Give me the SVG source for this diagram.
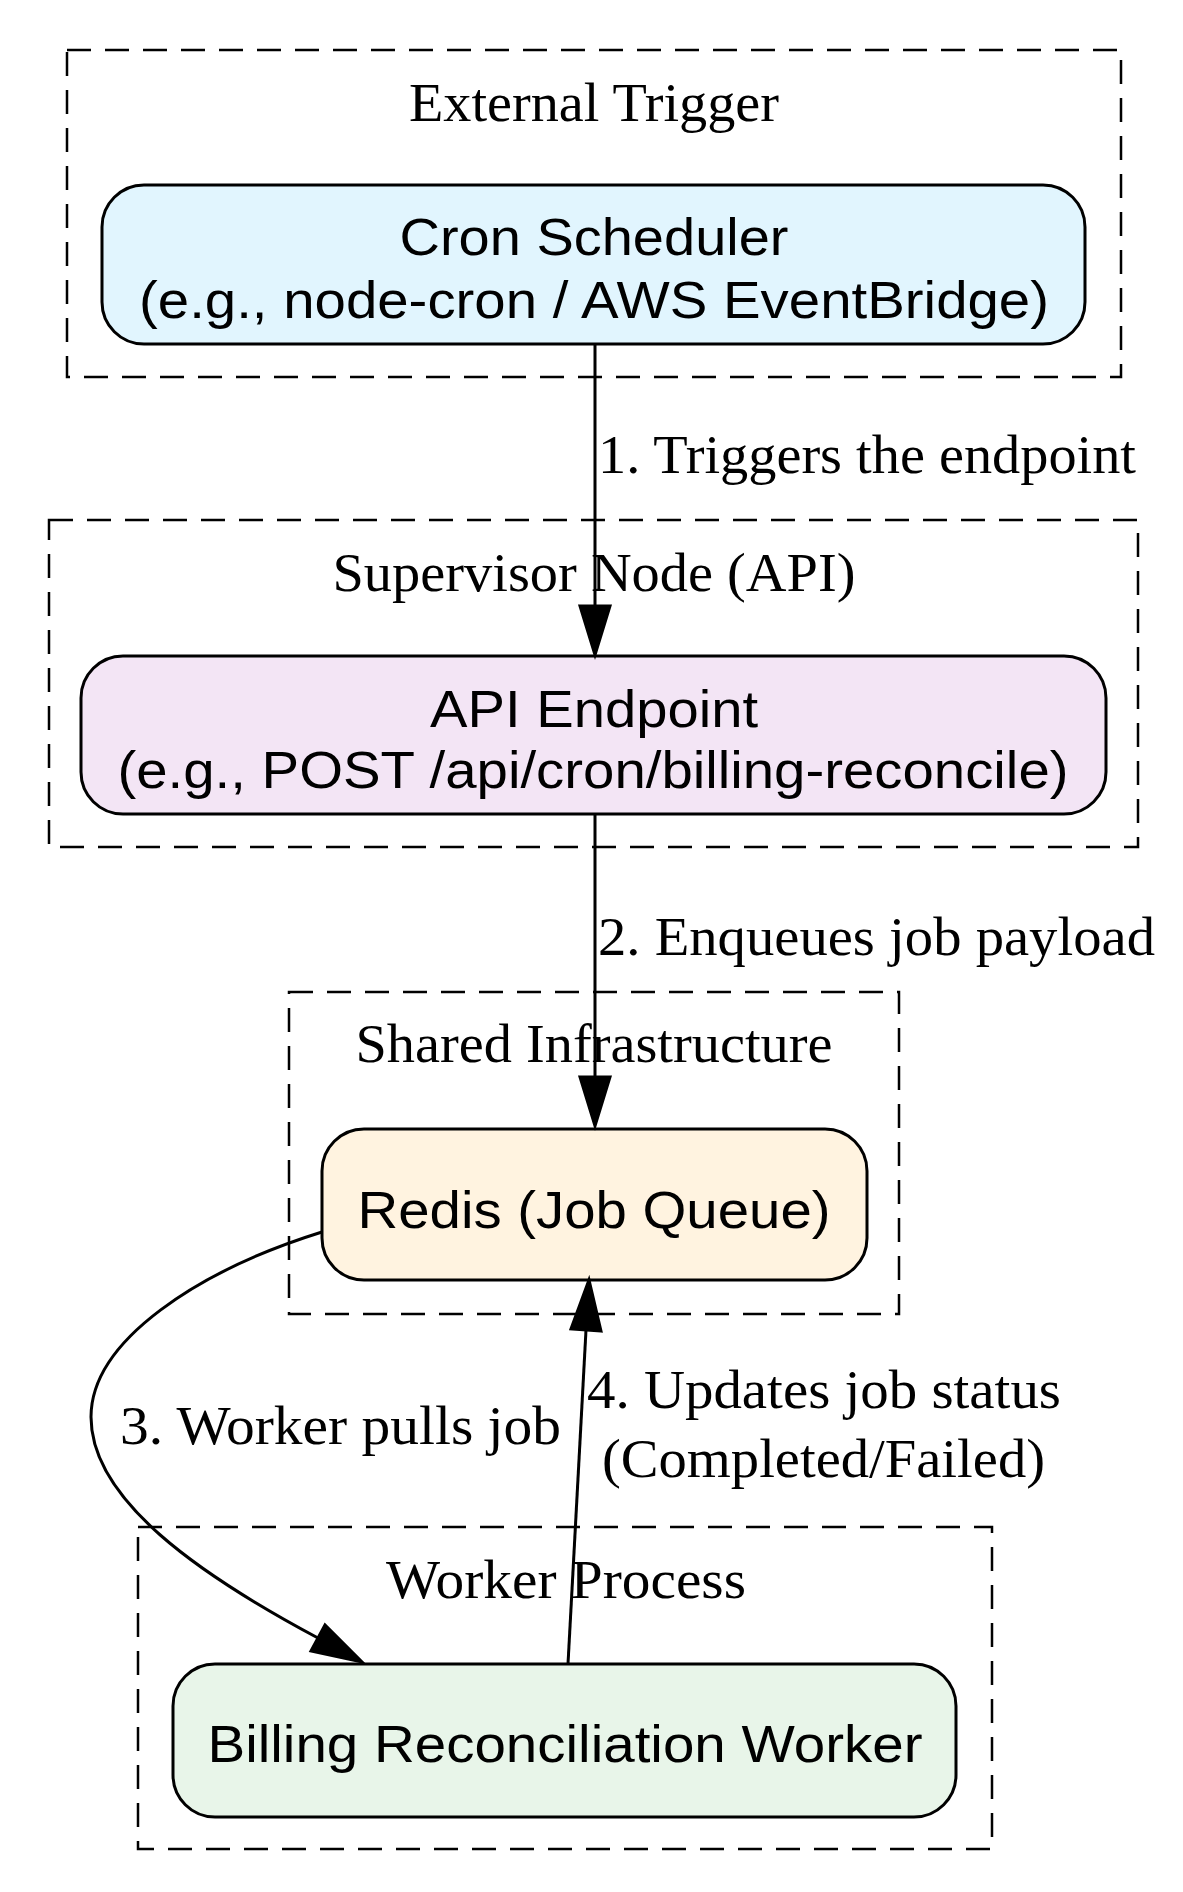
<svg xmlns="http://www.w3.org/2000/svg" width="1183" height="1892" viewBox="0 0 1183 1892">
<style>
.cl{fill:none;stroke:#000;stroke-width:2.5;stroke-dasharray:24,14}
.nd{stroke:#000;stroke-width:3}
.st{font-family:"Liberation Sans",Arial,sans-serif;font-size:52px;text-anchor:middle;fill:#000}
.lt{font-family:"Liberation Serif","Times New Roman",serif;font-size:54px;fill:#000}
.ct{font-family:"Liberation Serif","Times New Roman",serif;font-size:54px;text-anchor:middle;fill:#000}
.ed{fill:none;stroke:#000;stroke-width:3}
</style>
<rect width="1183" height="1892" fill="#fff"/>
<g id="cluster-external">
<rect class="cl" x="67" y="50" width="1054" height="327"/>
<text class="ct" x="594" y="121" textLength="370" lengthAdjust="spacingAndGlyphs">External Trigger</text>
</g>
<g id="cluster-supervisor">
<rect class="cl" x="49" y="520" width="1089" height="327"/>
<text class="ct" x="594" y="591" textLength="523" lengthAdjust="spacingAndGlyphs">Supervisor Node (API)</text>
</g>
<g id="cluster-shared">
<rect class="cl" x="289" y="992" width="610" height="322"/>
<text class="ct" x="594" y="1062" textLength="477" lengthAdjust="spacingAndGlyphs">Shared Infrastructure</text>
</g>
<g id="cluster-worker">
<rect class="cl" x="138" y="1527" width="854" height="322"/>
<text class="ct" x="566" y="1598" textLength="360" lengthAdjust="spacingAndGlyphs">Worker Process</text>
</g>
<g id="cron">
<rect class="nd" x="102" y="185" width="983" height="159" rx="42" fill="#e1f5fe"/>
<text class="st" x="594" y="255" textLength="389" lengthAdjust="spacingAndGlyphs">Cron Scheduler</text>
<text class="st" x="594" y="318" textLength="910" lengthAdjust="spacingAndGlyphs">(e.g., node-cron / AWS EventBridge)</text>
</g>
<g id="api">
<rect class="nd" x="81" y="656" width="1025" height="158" rx="42" fill="#f3e5f5"/>
<text class="st" x="594" y="727" textLength="328" lengthAdjust="spacingAndGlyphs">API Endpoint</text>
<text class="st" x="593" y="788" textLength="951" lengthAdjust="spacingAndGlyphs">(e.g., POST /api/cron/billing-reconcile)</text>
</g>
<g id="redis">
<rect class="nd" x="322" y="1129" width="545" height="151" rx="42" fill="#fff3e0"/>
<text class="st" x="594" y="1228" textLength="473" lengthAdjust="spacingAndGlyphs">Redis (Job Queue)</text>
</g>
<g id="worker">
<rect class="nd" x="173" y="1664" width="783" height="153" rx="42" fill="#e8f5e9"/>
<text class="st" x="565" y="1762" textLength="715" lengthAdjust="spacingAndGlyphs">Billing Reconciliation Worker</text>
</g>
<g id="connectors">
<path class="ed" d="M595,344 L595,606"/>
<polygon points="580,606 610,606 595,655" fill="#000" stroke="#000" stroke-width="3"/>
<text class="lt" x="598" y="473" textLength="538" lengthAdjust="spacingAndGlyphs">1. Triggers the endpoint</text>
<path class="ed" d="M595,814 L595,1077"/>
<polygon points="580,1077 610,1077 595,1126" fill="#000" stroke="#000" stroke-width="3"/>
<text class="lt" x="598" y="955" textLength="557" lengthAdjust="spacingAndGlyphs">2. Enqueues job payload</text>
<path class="ed" d="M322,1232 C200,1270 91,1340 91,1417 C91,1500 200,1575 318,1638"/>
<polygon points="311,1651 325,1625 362,1662" fill="#000" stroke="#000" stroke-width="3"/>
<text class="lt" x="120" y="1444" textLength="441" lengthAdjust="spacingAndGlyphs">3. Worker pulls job</text>
<path class="ed" d="M568,1664 L586,1330"/>
<polygon points="601,1331 571,1329 589,1280" fill="#000" stroke="#000" stroke-width="3"/>
<text class="lt" x="587" y="1408" textLength="474" lengthAdjust="spacingAndGlyphs">4. Updates job status</text>
<text class="lt" x="602" y="1477" textLength="443" lengthAdjust="spacingAndGlyphs">(Completed/Failed)</text>
</g>
</svg>
